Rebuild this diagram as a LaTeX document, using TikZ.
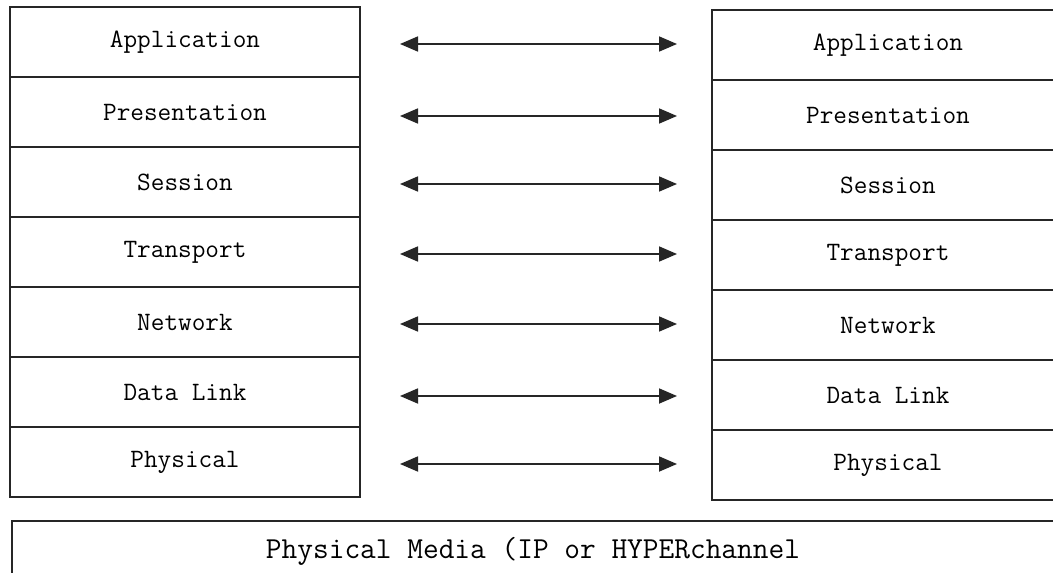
\documentclass[tikz,border=0pt]{standalone}
\usepackage{fontspec}
\usetikzlibrary{arrows.meta}
\tikzset{
  layer/.style={draw=black!85, line width=1.6pt, minimum height=70pt,
    inner sep=0pt, outer sep=0pt, font=\ttfamily\fontsize{26.5}{26.5}\selectfont},
  leftlayer/.style={layer, minimum width=350pt},
  rightlayer/.style={layer, minimum width=352pt},
  peer/.style={line width=1.8pt, draw=black!85,
    {Triangle[length=18pt,width=15pt]}-{Triangle[length=18pt,width=15pt]}},
  media/.style={draw=black!85, line width=1.6pt, minimum width=1044pt,
    minimum height=80pt, inner sep=0pt, outer sep=0pt}
}
\begin{document}
\begin{tikzpicture}[x=1pt,y=-1pt]
  \clip (0,0) rectangle (1053,573);
  \fill[white] (0,0) rectangle (1053,573);
  % the two protocol stacks
  \foreach \name [count=\i from 0] in {Application,Presentation,Session,Transport,Network,Data Link,Physical}{
    \node[leftlayer]  (L\i) at (185,42+70*\i) {\name};
    \node[rightlayer] (R\i) at (888,45+70*\i) {\name};
  }
  % peer-to-peer arrows between the layers
  \foreach \i/\y in {0/44,1/116,2/184,3/254,4/324,5/396,6/464}{
    \coordinate (a\i) at (400,\y);
    \coordinate (b\i) at (677,\y);
    \draw[peer] (a\i) -- (b\i);
  }
  % shared medium underneath
  \node[media, anchor=north west] (M) at (12,521) {};
  \node[font=\ttfamily\fontsize{30.5}{30.5}\selectfont] (Mt) at (533,551)
    {Physical Media (IP or HYPERchannel};
\end{tikzpicture}
\end{document}
